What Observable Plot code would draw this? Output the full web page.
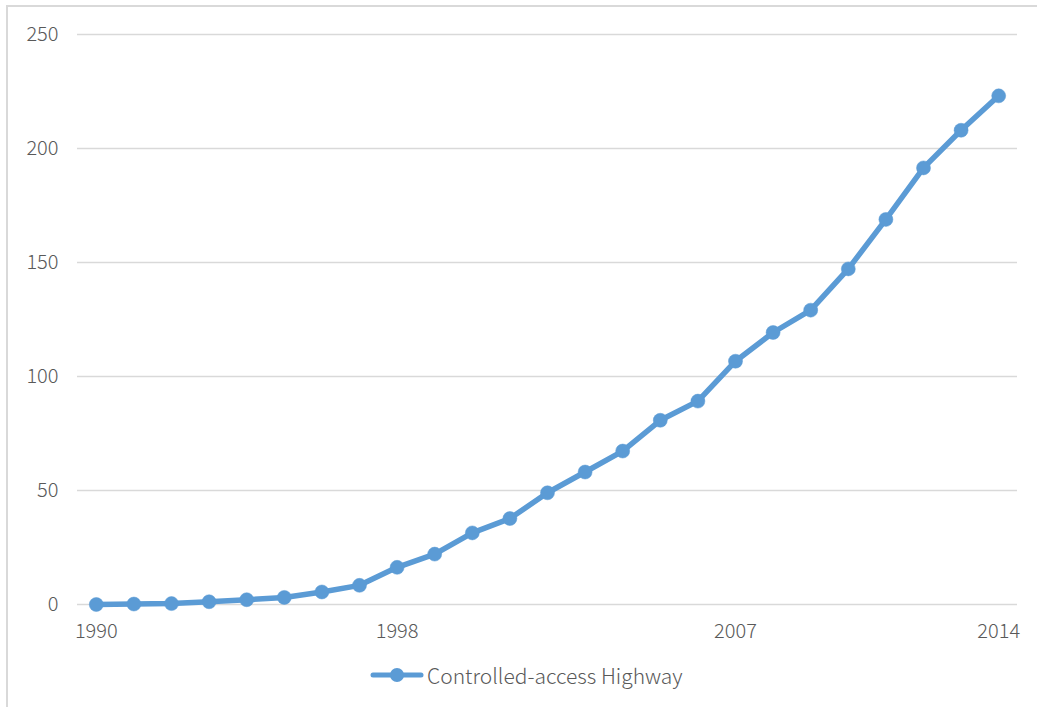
<!DOCTYPE html>
<html>
<head>
<meta charset="utf-8">
<script src="https://cdn.jsdelivr.net/npm/d3@7"></script>
<script src="https://cdn.jsdelivr.net/npm/@observablehq/plot@0.6"></script>
<style>
  html, body { margin: 0; padding: 0; background: #fff; }
  body { width: 1037px; height: 707px; position: relative; overflow: hidden;
         font-family: "Noto Sans CJK SC", "Noto Sans", sans-serif; font-weight: 300; }
  #frame { position: absolute; left: 6px; top: 5px; width: 1100px; height: 800px;
           border-top: 2px solid #D9D9D9; border-left: 2px solid #D9D9D9; box-sizing: border-box; }
  #chart { position: absolute; left: 0; top: 0; }
  #legend { position: absolute; left: 370px; top: 661px; height: 28px; display: flex; align-items: center;
            font-size: 21px; font-weight: 300; color: #595959; white-space: nowrap; }
  #legend svg { display: block; margin-right: 3px; }
</style>
</head>
<body>
<div id="frame"></div>
<div id="chart"></div>
<div id="legend"></div>
<script>
// Length of controlled-access highway, 1990–2014
const years = [1990, 1991, 1992, 1993, 1994, 1995, 1996, 1997, 1998, 1999, 2000, 2001, 2002,
               2003, 2004, 2005, 2006, 2007, 2008, 2009, 2010, 2011, 2012, 2013, 2014];
const lengths = [0, 0.2, 0.4, 1.2, 2.1, 3.1, 5.5, 8.4, 16.3, 22.1, 31.4, 37.7, 49.0,
                 58.1, 67.3, 80.8, 89.2, 106.7, 119.3, 129.1, 147.2, 168.9, 191.5, 208.0, 223.1];
const seriesName = "Controlled-access Highway";
const xTicks = [1990, 1998, 2007, 2014];
const yTicks = [0, 50, 100, 150, 200, 250];

const blue = "#5B9BD5";
const grid = "#D9D9D9";
const textColor = "#595959";

const data = years.map((year, i) => ({year, value: lengths[i]}));

const chart = Plot.plot({
  width: 1037,
  height: 650,
  marginLeft: 77,
  marginRight: 20,
  marginTop: 34,
  marginBottom: 46,
  style: {fontFamily: '"Noto Sans CJK SC", "Noto Sans", sans-serif', fontSize: "20px", fontWeight: 300, color: textColor, background: "transparent", overflow: "visible"},
  x: {domain: [1989.5, 2014.5], label: null},
  y: {domain: [0, 250], label: null},
  marks: [
    Plot.gridY(yTicks, {stroke: grid, strokeOpacity: 1, strokeWidth: 1.5}),
    Plot.axisY(yTicks, {tickSize: 0, tickPadding: 19, fontSize: 20, fill: textColor, label: null}),
    Plot.axisX(xTicks, {tickSize: 0, tickPadding: 19, fontSize: 20, fill: textColor, label: null, tickFormat: d => String(d)}),
    Plot.line(data, {x: "year", y: "value", stroke: blue, strokeWidth: 5.5, strokeLinejoin: "round", strokeLinecap: "round"}),
    Plot.dot(data, {x: "year", y: "value", r: 7, fill: blue, stroke: blue, strokeWidth: 0.5})
  ]
});
document.getElementById("chart").appendChild(chart);

// Legend: line sample with marker, then the series name
const legend = document.getElementById("legend");
const ns = "http://www.w3.org/2000/svg";
const sw = document.createElementNS(ns, "svg");
sw.setAttribute("width", 54);
sw.setAttribute("height", 28);
const ln = document.createElementNS(ns, "line");
ln.setAttribute("x1", 3); ln.setAttribute("x2", 51);
ln.setAttribute("y1", 14); ln.setAttribute("y2", 14);
ln.setAttribute("stroke", blue); ln.setAttribute("stroke-width", 5); ln.setAttribute("stroke-linecap", "round");
const c = document.createElementNS(ns, "circle");
c.setAttribute("cx", 27); c.setAttribute("cy", 14); c.setAttribute("r", 7); c.setAttribute("fill", blue);
sw.appendChild(ln); sw.appendChild(c);
legend.appendChild(sw);
const label = document.createElement("span");
label.textContent = seriesName;
legend.appendChild(label);
</script>
</body>
</html>
